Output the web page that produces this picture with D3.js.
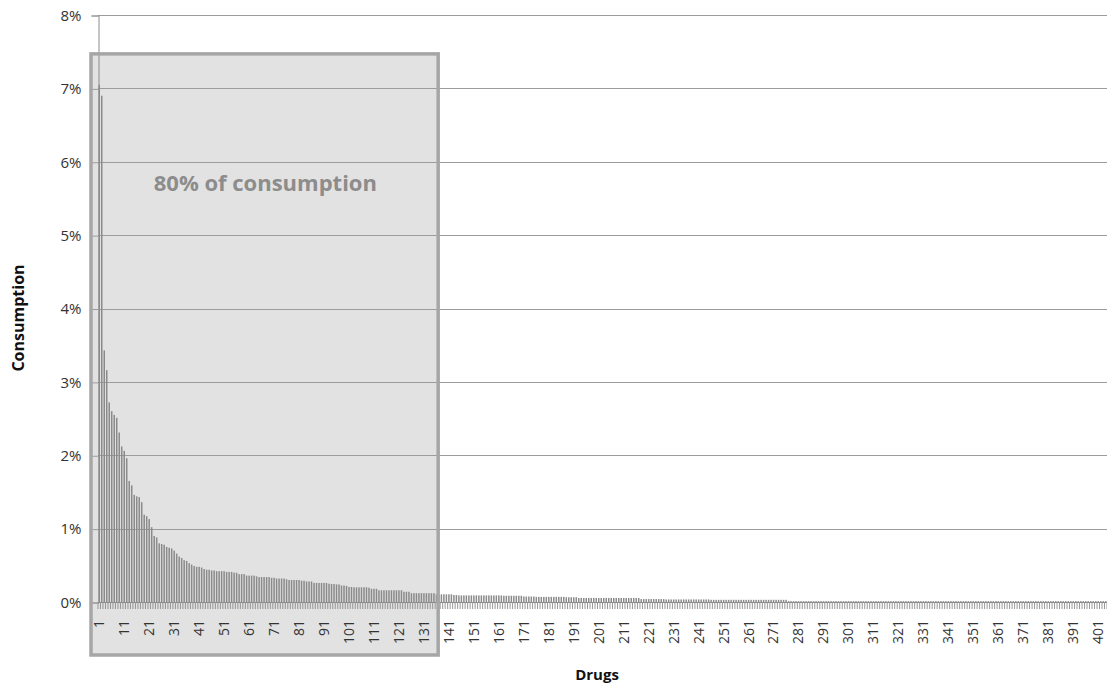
<!DOCTYPE html>
<html><head><meta charset="utf-8">
<script src="https://cdn.jsdelivr.net/npm/d3@7"></script>
<style>body{margin:0;background:#fff;overflow:hidden;} text{font-family:"Open Sans",sans-serif;}</style>
</head><body><svg id="c" width="1107" height="688"></svg>
<script>
// consumption share (%) per drug, ranked (404 drugs)
const consumption = [
/*   1- 10 */ 7.05,6.90,3.43,3.16,2.72,2.60,2.55,2.51,2.31,2.12,
/*  11- 20 */ 2.06,1.96,1.65,1.59,1.46,1.44,1.43,1.36,1.19,1.17,
/*  21- 30 */ 1.13,1.02,0.90,0.88,0.80,0.79,0.78,0.75,0.74,0.73,
/*  31- 40 */ 0.70,0.66,0.62,0.60,0.57,0.56,0.53,0.51,0.49,0.48,
/*  41- 50 */ 0.48,0.47,0.45,0.44,0.44,0.43,0.43,0.42,0.42,0.42,
/*  51- 60 */ 0.42,0.41,0.41,0.41,0.40,0.40,0.38,0.38,0.38,0.36,
/*  61- 70 */ 0.36,0.36,0.36,0.35,0.34,0.34,0.34,0.34,0.34,0.33,
/*  71- 80 */ 0.33,0.32,0.32,0.32,0.32,0.31,0.30,0.30,0.30,0.30,
/*  81- 90 */ 0.30,0.29,0.29,0.28,0.28,0.28,0.26,0.26,0.26,0.26,
/*  91-100 */ 0.26,0.26,0.25,0.245,0.245,0.24,0.24,0.225,0.225,0.22,
/* 101-110 */ 0.205,0.205,0.20,0.20,0.20,0.20,0.20,0.20,0.195,0.18,
/* 111-120 */ 0.18,0.18,0.16,0.16,0.16,0.16,0.16,0.16,0.16,0.16,
/* 121-130 */ 0.16,0.16,0.14,0.14,0.14,0.12,0.12,0.12,0.12,0.12,
/* 131-140 */ 0.12,0.12,0.12,0.12,0.12,0.105,0.105,0.105,0.105,0.105,
/* 141-150 */ 0.105,0.105,0.095,0.095,0.09,0.09,0.09,0.09,0.09,0.09,
/* 151-160 */ 0.09,0.09,0.09,0.09,0.09,0.09,0.09,0.09,0.09,0.09,
/* 161-170 */ 0.09,0.09,0.085,0.085,0.085,0.085,0.085,0.085,0.085,0.085,
/* 171-180 */ 0.075,0.075,0.075,0.075,0.075,0.07,0.07,0.07,0.07,0.07,
/* 181-190 */ 0.07,0.07,0.07,0.07,0.07,0.07,0.07,0.065,0.065,0.065,
/* 191-200 */ 0.065,0.065,0.055,0.055,0.055,0.055,0.055,0.055,0.055,0.055,
/* 201-210 */ 0.055,0.055,0.055,0.055,0.055,0.055,0.055,0.055,0.055,0.055,
/* 211-220 */ 0.055,0.055,0.055,0.055,0.055,0.055,0.055,0.04,0.04,0.04,
/* 221-230 */ 0.04,0.04,0.04,0.04,0.04,0.04,0.04,0.035,0.035,0.035,
/* 231-240 */ 0.035,0.035,0.035,0.035,0.035,0.035,0.035,0.035,0.035,0.035,
/* 241-250 */ 0.035,0.035,0.035,0.035,0.035,0.03,0.03,0.03,0.03,0.03,
/* 251-260 */ 0.03,0.03,0.03,0.03,0.03,0.03,0.03,0.03,0.03,0.03,
/* 261-270 */ 0.03,0.03,0.03,0.03,0.03,0.03,0.03,0.03,0.03,0.03,
/* 271-280 */ 0.03,0.03,0.03,0.03,0.03,0.03,0.012,0.012,0.012,0.012,
/* 281-290 */ 0.012,0.012,0.012,0.012,0.012,0.012,0.012,0.012,0.012,0.012,
/* 291-300 */ 0.012,0.012,0.012,0.012,0.012,0.012,0.012,0.012,0.012,0.012,
/* 301-310 */ 0.012,0.012,0.012,0.012,0.012,0.012,0.012,0.012,0.012,0.012,
/* 311-320 */ 0.012,0.012,0.012,0.012,0.012,0.012,0.012,0.012,0.012,0.012,
/* 321-330 */ 0.012,0.012,0.012,0.012,0.012,0.012,0.012,0.012,0.012,0.012,
/* 331-340 */ 0.012,0.012,0.012,0.012,0.012,0.012,0.012,0.012,0.012,0.012,
/* 341-350 */ 0.012,0.012,0.012,0.012,0.012,0.012,0.012,0.012,0.012,0.012,
/* 351-360 */ 0.012,0.012,0.012,0.012,0.012,0.012,0.012,0.012,0.012,0.012,
/* 361-370 */ 0.012,0.012,0.012,0.012,0.012,0.012,0.012,0.012,0.012,0.012,
/* 371-380 */ 0.012,0.012,0.012,0.012,0.012,0.012,0.012,0.012,0.012,0.012,
/* 381-390 */ 0.012,0.012,0.012,0.012,0.012,0.012,0.012,0.012,0.012,0.012,
/* 391-400 */ 0.012,0.012,0.012,0.012,0.012,0.012,0.012,0.012,0.012,0.012,
/* 401-404 */ 0.012,0.012,0.012,0.012
];
const categories = consumption.map((d, i) => i + 1);
const xTickLabels = ["1","11","21","31","41","51","61","71","81","91","101","111","121","131","141","151","161","171","181","191","201","211","221","231","241","251","261","271","281","291","301","311","321","331","341","351","361","371","381","391","401"];
const yTicks = [0,1,2,3,4,5,6,7,8];
const yTitle = "Consumption";
const xTitle = "Drugs";
const annotationText = "80% of consumption";
const annotationLast = 135; // last drug inside the highlighted box
const annotationTop = 7.47;

const svg = d3.select("#c");
const L = 98, R = 1107, T = 15, B = 602;
const x = d3.scaleBand().domain(categories).range([L, R]).padding(0);
const step = x.step();
const y = d3.scaleLinear().domain([0, 8]).range([B, T]);

// highlight box fill (behind)
const bx0 = x(1) - 7, bx1 = x(annotationLast) + step + 3;
const by0 = y(annotationTop), by1 = B + 53;
svg.append("rect").attr("x", bx0).attr("y", by0).attr("width", bx1 - bx0).attr("height", by1 - by0)
  .attr("fill", "#e2e2e2");

// gridlines
svg.append("g").selectAll("line").data(yTicks).join("line")
  .attr("x1", L).attr("x2", R)
  .attr("y1", d => Math.round(y(d)) + 0.5).attr("y2", d => Math.round(y(d)) + 0.5)
  .attr("stroke", "#9c9c9c").attr("stroke-width", 1);

// bars
svg.append("g").selectAll("rect").data(consumption).join("rect")
  .attr("x", (d, i) => x(categories[i]) + step * 0.2)
  .attr("width", step * 0.6)
  .attr("y", d => y(d))
  .attr("height", d => y(0) - y(d))
  .attr("fill", "#8a8a8a");

// category tick marks at boundaries
const bounds = categories.map(c => x(c)).concat([R]);
svg.append("g").selectAll("line").data(bounds).join("line")
  .attr("x1", d => d).attr("x2", d => d)
  .attr("y1", B).attr("y2", B + 7)
  .attr("stroke", "#8c8c8c").attr("stroke-width", 0.9);

// y axis
const yAxis = d3.axisLeft(y).tickValues(yTicks).tickFormat(d => d + "%").tickSize(7).tickPadding(10);
const ya = svg.append("g").attr("transform", `translate(${L + 0.5},0.5)`).call(yAxis);
ya.select(".domain").attr("stroke", "#8c8c8c");
ya.selectAll(".tick line").attr("stroke", "#9c9c9c");
ya.selectAll(".tick text").attr("font-size", 15).attr("fill", "#333").attr("font-family", "Open Sans");

// x axis line
svg.append("line").attr("x1", L).attr("x2", R).attr("y1", Math.round(B) + 0.5).attr("y2", Math.round(B) + 0.5)
  .attr("stroke", "#8c8c8c");

// x labels
svg.append("g").selectAll("text").data(xTickLabels).join("text")
  .attr("transform", d => `translate(${x(+d) + step / 2},${B + 18}) rotate(-90)`)
  .attr("text-anchor", "end").attr("dy", "0.35em")
  .attr("font-size", 14).attr("fill", "#333")
  .text(d => d);

// box stroke (front)
svg.append("rect").attr("x", bx0).attr("y", by0).attr("width", bx1 - bx0).attr("height", by1 - by0)
  .attr("fill", "none").attr("stroke", "#a6a6a6").attr("stroke-width", 3.5);

// annotation text
svg.append("text").attr("x", (x(1) + x(annotationLast)) / 2).attr("y", y(5.6))
  .attr("text-anchor", "middle").attr("font-size", 22).attr("font-weight", "bold")
  .attr("fill", "#8c8c8c").text(annotationText);

// axis titles
svg.append("text").attr("transform", `translate(24,318) rotate(-90)`)
  .attr("text-anchor", "middle").attr("font-size", 16).attr("font-weight", "bold").attr("fill", "#111")
  .text(yTitle);
svg.append("text").attr("x", 597).attr("y", 680)
  .attr("text-anchor", "middle").attr("font-size", 15).attr("font-weight", "bold").attr("fill", "#111")
  .text(xTitle);
</script></body></html>
